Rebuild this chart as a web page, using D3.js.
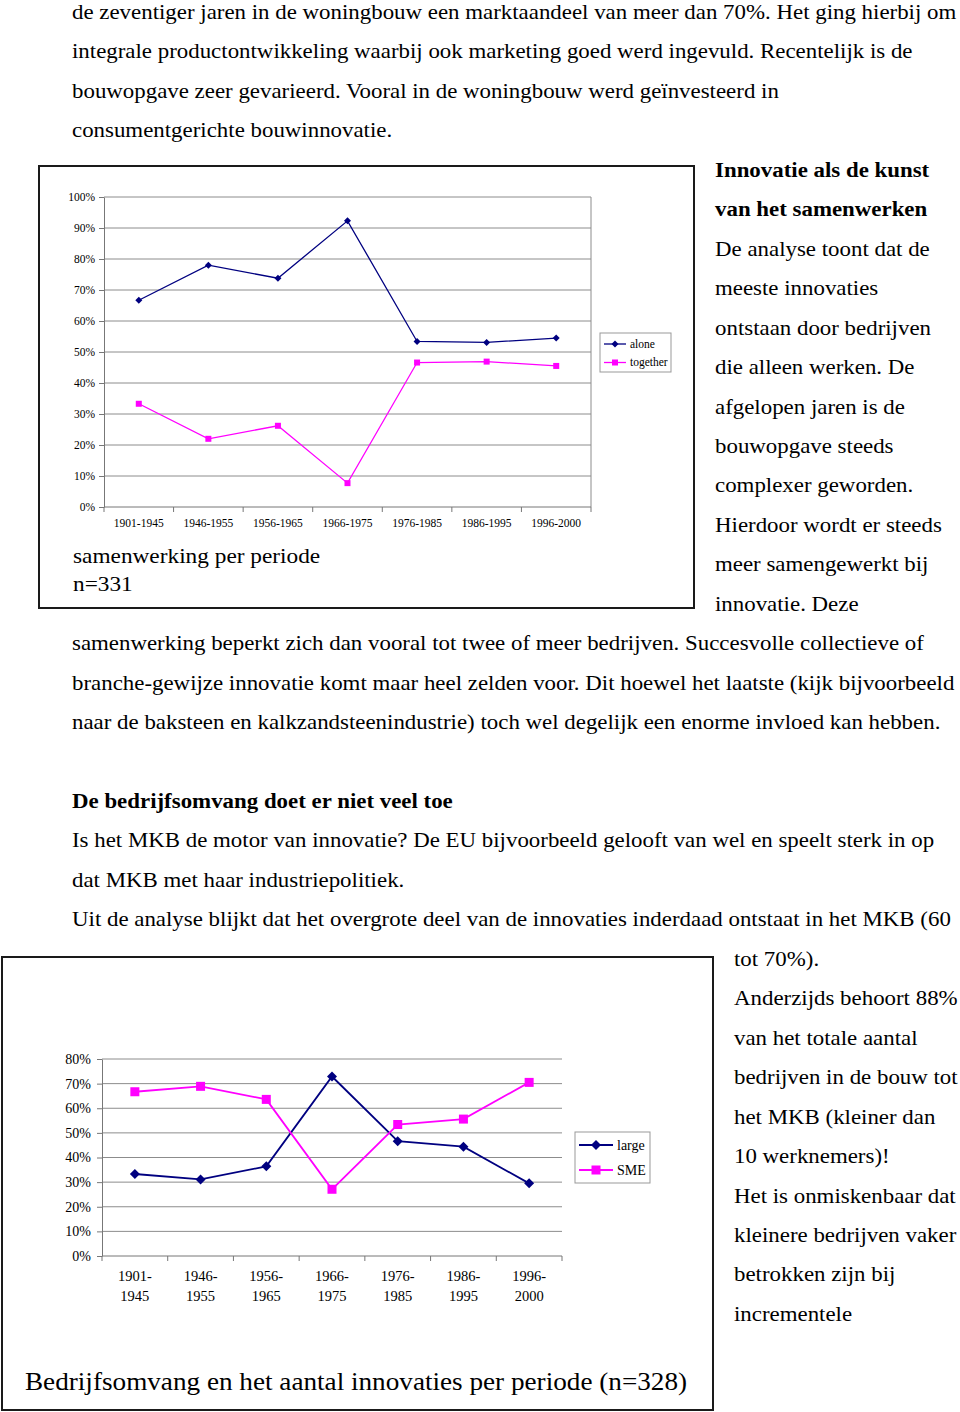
<!DOCTYPE html>
<html>
<head>
<meta charset="utf-8">
<script src="https://cdn.jsdelivr.net/npm/d3@7/dist/d3.min.js"></script>
<style>
  body { margin: 0; background: #fff; }
  svg { display: block; }
  text { font-family: "Liberation Serif", "Times New Roman", serif; fill: #000; }
</style>
</head>
<body>
<div id="page"></div>
<script>
/*global d3*/

// --- chart data ---
var periods = ['1901-1945', '1946-1955', '1956-1965', '1966-1975', '1976-1985', '1986-1995', '1996-2000'];
var alone = [66.7, 78.0, 73.8, 92.3, 53.4, 53.1, 54.5];
var together = [33.3, 22.0, 26.2, 7.7, 46.6, 46.9, 45.5];
var large = [33.3, 31.1, 36.4, 72.9, 46.6, 44.4, 29.5];
var sme = [66.7, 68.9, 63.6, 27.1, 53.4, 55.6, 70.5];
var ticks1 = [0, 10, 20, 30, 40, 50, 60, 70, 80, 90, 100];
var ticks2 = [0, 10, 20, 30, 40, 50, 60, 70, 80];

// --- page text, one entry per printed line ---
var introLines = [
    'de zeventiger jaren in de woningbouw een marktaandeel van meer dan 70%. Het ging hierbij om',
    'integrale productontwikkeling waarbij ook marketing goed werd ingevuld. Recentelijk is de',
    'bouwopgave zeer gevarieerd. Vooral in de woningbouw werd geïnvesteerd in',
    'consumentgerichte bouwinnovatie.'
];
var sideLines1 = [
    'Innovatie als de kunst', 'van het samenwerken', 'De analyse toont dat de', 'meeste innovaties',
    'ontstaan door bedrijven', 'die alleen werken. De', 'afgelopen jaren is de', 'bouwopgave steeds',
    'complexer geworden.', 'Hierdoor wordt er steeds', 'meer samengewerkt bij', 'innovatie. Deze'
];
var midLines = [
    'samenwerking beperkt zich dan vooral tot twee of meer bedrijven. Succesvolle collectieve of',
    'branche-gewijze innovatie komt maar heel zelden voor. Dit hoewel het laatste (kijk bijvoorbeeld',
    'naar de baksteen en kalkzandsteenindustrie) toch wel degelijk een enorme invloed kan hebben.',
    '',
    'De bedrijfsomvang doet er niet veel toe',
    'Is het MKB de motor van innovatie? De EU bijvoorbeeld gelooft van wel en speelt sterk in op',
    'dat MKB met haar industriepolitiek.',
    'Uit de analyse blijkt dat het overgrote deel van de innovaties inderdaad ontstaat in het MKB (60'
];
var sideLines2 = [
    'tot 70%).', 'Anderzijds behoort 88%', 'van het totale aantal', 'bedrijven in de bouw tot',
    'het MKB (kleiner dan', '10 werknemers)!', 'Het is onmiskenbaar dat', 'kleinere bedrijven vaker',
    'betrokken zijn bij', 'incrementele'
];
var boldLines = ['Innovatie als de kunst', 'van het samenwerken', 'De bedrijfsomvang doet er niet veel toe'];

var NAVY = '#000080',
    MAGENTA = '#ff00ff',
    GRID = '#8c8c8c',
    width = 960,
    height = 1412,
    lineHeight = 39.45,
    firstBaseline = 19,
    // the scanned page is a bit wider than plain Times, stretch text to match
    stretch = 1.09;

var svg = d3.select('#page').append('svg')
    .attr('width', width)
    .attr('height', height);

svg.append('rect').attr('width', width).attr('height', height).attr('fill', '#fff');

function writeLines(lines, x, startLine) {
    svg.append('g').selectAll('text')
        .data(lines)
        .enter().append('text')
        .attr('transform', function (d, i) {
            return 'translate(' + x + ',' + (firstBaseline + (startLine + i) * lineHeight) + ')' +
                'scale(' + stretch + ',1)';
        })
        .style('font-size', '21px')
        .style('font-weight', function (d) { return boldLines.indexOf(d) >= 0 ? 'bold' : 'normal'; })
        .text(function (d) { return d; });
}

writeLines(introLines, 72, 0);
writeLines(sideLines1, 715, 4);
writeLines(midLines, 72, 16);
writeLines(sideLines2, 734, 24);

function diamond(sel, r) {
    sel.append('path')
        .attr('d', 'M0,' + (-r) + 'L' + r + ',0L0,' + r + 'L' + (-r) + ',0Z');
}

function square(sel, r) {
    sel.append('rect')
        .attr('x', -r).attr('y', -r)
        .attr('width', 2 * r).attr('height', 2 * r);
}

/**
 * Draws one framed Excel-like line chart.
 */
function lineChart(o) {
    var g = svg.append('g'),
        x = d3.scaleBand().domain(periods).range([o.left, o.right]),
        y = d3.scaleLinear().domain([0, o.max]).range([o.bottom, o.top]),
        line = d3.line()
            .x(function (d, i) { return x(periods[i]) + x.bandwidth() / 2; })
            .y(function (d) { return y(d); });

    // frame round the whole chart
    g.append('rect')
        .attr('x', o.frame[0]).attr('y', o.frame[1])
        .attr('width', o.frame[2]).attr('height', o.frame[3])
        .attr('fill', 'none')
        .attr('stroke', '#1a1a1a')
        .attr('stroke-width', 2);

    g.append('g').selectAll('line')
        .data(o.ticks.slice(1))
        .enter().append('line')
        .attr('x1', o.left).attr('x2', o.right)
        .attr('y1', function (d) { return y(d); })
        .attr('y2', function (d) { return y(d); })
        .attr('stroke', GRID)
        .attr('stroke-width', 1);

    if (o.plotBorder) {
        g.append('line')
            .attr('x1', o.right).attr('x2', o.right)
            .attr('y1', o.top).attr('y2', o.bottom)
            .attr('stroke', GRID);
    }

    var yAxis = g.append('g')
        .attr('transform', 'translate(' + o.left + ',0)')
        .call(d3.axisLeft(y)
              .tickValues(o.ticks)
              .tickFormat(function (d) { return d + '%'; })
              .tickSize(5)
              .tickSizeOuter(0)
              .tickPadding(o.yPad));
    yAxis.select('.domain').attr('stroke', '#777');
    yAxis.selectAll('.tick line').attr('stroke', '#777');
    yAxis.selectAll('text')
        .attr('fill', '#000')
        .style('font-family', '"Liberation Serif", "Times New Roman", serif')
        .style('font-size', o.yFont + 'px');

    // x axis: ticks on the category boundaries, labels under the centres
    var bounds = periods.map(function (p) { return x(p); }).concat([o.right]);
    g.append('line')
        .attr('x1', o.left).attr('x2', o.right)
        .attr('y1', o.bottom).attr('y2', o.bottom)
        .attr('stroke', '#777');
    g.append('g').selectAll('line')
        .data(bounds)
        .enter().append('line')
        .attr('x1', function (d) { return d; })
        .attr('x2', function (d) { return d; })
        .attr('y1', o.bottom).attr('y2', o.bottom + 5)
        .attr('stroke', '#777');

    var labels = g.append('g').selectAll('text')
        .data(periods)
        .enter().append('text')
        .attr('text-anchor', 'middle')
        .style('font-size', o.xFont + 'px');
    if (o.splitLabels) {
        labels.each(function (d) {
            var t = d3.select(this),
                cx = x(d) + x.bandwidth() / 2,
                parts = d.split('-');
            t.append('tspan').attr('x', cx).attr('y', o.bottom + o.xGap).text(parts[0] + '-');
            t.append('tspan').attr('x', cx).attr('y', o.bottom + o.xGap + 19.5).text(parts[1]);
        });
    } else {
        labels
            .attr('x', function (d) { return x(d) + x.bandwidth() / 2; })
            .attr('y', o.bottom + o.xGap)
            .text(function (d) { return d; });
    }

    o.series.forEach(function (s) {
        g.append('path')
            .datum(s.values)
            .attr('d', line)
            .attr('fill', 'none')
            .attr('stroke', s.color)
            .attr('stroke-width', o.lineWidth);
        g.append('g').selectAll('g')
            .data(s.values)
            .enter().append('g')
            .attr('transform', function (d, i) {
                return 'translate(' + (x(periods[i]) + x.bandwidth() / 2) + ',' + y(d) + ')';
            })
            .attr('fill', s.color)
            .each(function () { s.marker(d3.select(this), s.size); });
    });

    // legend
    var lg = g.append('g');
    lg.append('rect')
        .attr('x', o.legend[0]).attr('y', o.legend[1])
        .attr('width', o.legend[2]).attr('height', o.legend[3])
        .attr('fill', '#fff')
        .attr('stroke', '#999');
    o.series.forEach(function (s, i) {
        var ly = o.legend[1] + o.legendRow0 + i * o.legendStep,
            lx = o.legend[0] + 4;
        lg.append('line')
            .attr('x1', lx).attr('x2', lx + o.legendLine)
            .attr('y1', ly).attr('y2', ly)
            .attr('stroke', s.color)
            .attr('stroke-width', o.lineWidth);
        var m = lg.append('g')
            .attr('transform', 'translate(' + (lx + o.legendLine / 2) + ',' + ly + ')')
            .attr('fill', s.color);
        s.marker(m, s.size);
        lg.append('text')
            .attr('x', lx + o.legendLine + 4)
            .attr('y', ly + o.legendFont * 0.33)
            .style('font-size', o.legendFont + 'px')
            .text(s.name);
    });

    // caption lines
    o.caption.forEach(function (c) {
        g.append('text')
            .attr('transform', 'translate(' + c.x + ',' + c.y + ')scale(' + c.stretch + ',1)')
            .style('font-size', c.size + 'px')
            .text(c.text);
    });
}

lineChart({
    frame: [39, 166, 655, 442],
    left: 104, right: 591, top: 197, bottom: 507,
    max: 100, ticks: ticks1,
    plotBorder: true,
    yFont: 11.5, yPad: 4, xFont: 11.5, xGap: 20,
    lineWidth: 1.3,
    series: [
        {name: 'alone', values: alone, color: NAVY, marker: diamond, size: 3.5},
        {name: 'together', values: together, color: MAGENTA, marker: square, size: 3}
    ],
    legend: [600, 333, 71, 39],
    legendRow0: 11, legendStep: 18.5, legendLine: 22, legendFont: 11.5,
    caption: [
        {text: 'samenwerking per periode', x: 73, y: 563, size: 22, stretch: 1.06},
        {text: 'n=331', x: 73, y: 591, size: 22, stretch: 1.06}
    ]
});

lineChart({
    frame: [2, 957, 711, 453],
    left: 102, right: 562, top: 1059, bottom: 1256,
    max: 80, ticks: ticks2,
    plotBorder: false,
    splitLabels: true,
    yFont: 14, yPad: 6, xFont: 14.5, xGap: 25,
    lineWidth: 1.8,
    series: [
        {name: 'large', values: large, color: NAVY, marker: diamond, size: 5},
        {name: 'SME', values: sme, color: MAGENTA, marker: square, size: 4.5}
    ],
    legend: [575, 1132, 75, 51],
    legendRow0: 13, legendStep: 25, legendLine: 34, legendFont: 14,
    caption: [
        {text: 'Bedrijfsomvang en het aantal innovaties per periode (n=328)', x: 25, y: 1390, size: 25, stretch: 1.087}
    ]
});
</script>
</body>
</html>
